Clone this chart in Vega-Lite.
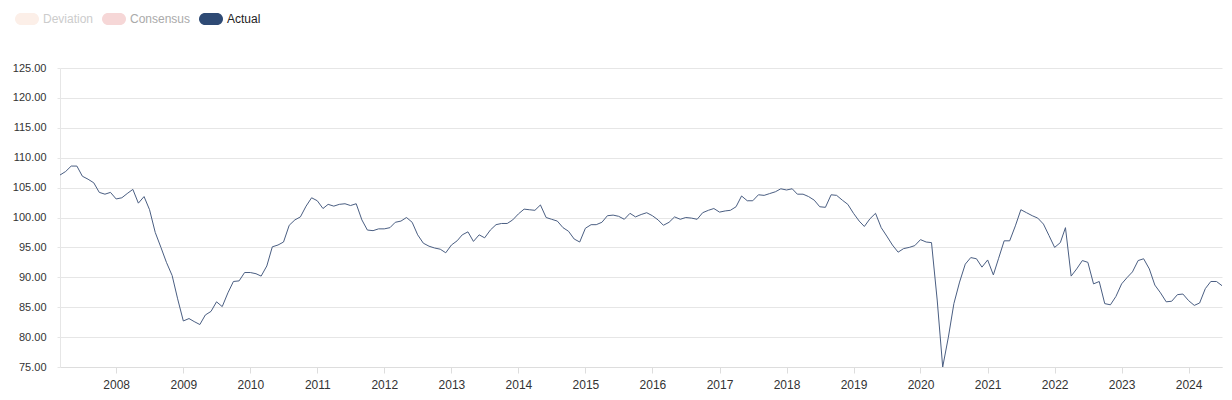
{
  "$schema": "https://vega.github.io/schema/vega-lite/v6.json",
  "width": 1162,
  "height": 299,
  "autosize": {"type": "none"},
  "padding": {"left": 60, "top": 68, "right": 10, "bottom": 33},
  "background": "#ffffff",
  "config": {
    "font": "Liberation Sans",
    "view": {"stroke": null}
  },
  "data": {
    "values": [
      {"d":"2007-03-01","v":107.1},{"d":"2007-04-01","v":107.7},{"d":"2007-05-01","v":108.6},{"d":"2007-06-01","v":108.6},
      {"d":"2007-07-01","v":106.9},{"d":"2007-08-01","v":106.4},{"d":"2007-09-01","v":105.8},{"d":"2007-10-01","v":104.2},
      {"d":"2007-11-01","v":103.9},{"d":"2007-12-01","v":104.2},{"d":"2008-01-01","v":103.1},{"d":"2008-02-01","v":103.3},
      {"d":"2008-03-01","v":104.0},{"d":"2008-04-01","v":104.7},{"d":"2008-05-01","v":102.4},{"d":"2008-06-01","v":103.5},
      {"d":"2008-07-01","v":101.3},{"d":"2008-08-01","v":97.5},{"d":"2008-09-01","v":95.0},{"d":"2008-10-01","v":92.5},
      {"d":"2008-11-01","v":90.3},{"d":"2008-12-01","v":86.4},{"d":"2009-01-01","v":82.7},{"d":"2009-02-01","v":83.1},
      {"d":"2009-03-01","v":82.6},{"d":"2009-04-01","v":82.1},{"d":"2009-05-01","v":83.7},{"d":"2009-06-01","v":84.3},
      {"d":"2009-07-01","v":85.9},{"d":"2009-08-01","v":85.1},{"d":"2009-09-01","v":87.4},{"d":"2009-10-01","v":89.3},
      {"d":"2009-11-01","v":89.4},{"d":"2009-12-01","v":90.8},{"d":"2010-01-01","v":90.8},{"d":"2010-02-01","v":90.6},
      {"d":"2010-03-01","v":90.2},{"d":"2010-04-01","v":91.9},{"d":"2010-05-01","v":95.1},{"d":"2010-06-01","v":95.4},
      {"d":"2010-07-01","v":95.9},{"d":"2010-08-01","v":98.7},{"d":"2010-09-01","v":99.6},{"d":"2010-10-01","v":100.1},
      {"d":"2010-11-01","v":101.9},{"d":"2010-12-01","v":103.3},{"d":"2011-01-01","v":102.8},{"d":"2011-02-01","v":101.5},
      {"d":"2011-03-01","v":102.2},{"d":"2011-04-01","v":101.9},{"d":"2011-05-01","v":102.2},{"d":"2011-06-01","v":102.3},
      {"d":"2011-07-01","v":102.0},{"d":"2011-08-01","v":102.3},{"d":"2011-09-01","v":99.6},{"d":"2011-10-01","v":97.9},
      {"d":"2011-11-01","v":97.8},{"d":"2011-12-01","v":98.1},{"d":"2012-01-01","v":98.1},{"d":"2012-02-01","v":98.3},
      {"d":"2012-03-01","v":99.2},{"d":"2012-04-01","v":99.4},{"d":"2012-05-01","v":100.0},{"d":"2012-06-01","v":99.2},
      {"d":"2012-07-01","v":97.1},{"d":"2012-08-01","v":95.7},{"d":"2012-09-01","v":95.2},{"d":"2012-10-01","v":94.9},
      {"d":"2012-11-01","v":94.7},{"d":"2012-12-01","v":94.1},{"d":"2013-01-01","v":95.4},{"d":"2013-02-01","v":96.1},
      {"d":"2013-03-01","v":97.1},{"d":"2013-04-01","v":97.6},{"d":"2013-05-01","v":96.0},{"d":"2013-06-01","v":97.1},
      {"d":"2013-07-01","v":96.6},{"d":"2013-08-01","v":97.9},{"d":"2013-09-01","v":98.8},{"d":"2013-10-01","v":99.0},
      {"d":"2013-11-01","v":99.0},{"d":"2013-12-01","v":99.6},{"d":"2014-01-01","v":100.6},{"d":"2014-02-01","v":101.4},
      {"d":"2014-03-01","v":101.3},{"d":"2014-04-01","v":101.2},{"d":"2014-05-01","v":102.1},{"d":"2014-06-01","v":100.0},
      {"d":"2014-07-01","v":99.7},{"d":"2014-08-01","v":99.4},{"d":"2014-09-01","v":98.3},{"d":"2014-10-01","v":97.7},
      {"d":"2014-11-01","v":96.4},{"d":"2014-12-01","v":95.9},{"d":"2015-01-01","v":98.2},{"d":"2015-02-01","v":98.8},
      {"d":"2015-03-01","v":98.8},{"d":"2015-04-01","v":99.2},{"d":"2015-05-01","v":100.3},{"d":"2015-06-01","v":100.4},
      {"d":"2015-07-01","v":100.2},{"d":"2015-08-01","v":99.7},{"d":"2015-09-01","v":100.7},{"d":"2015-10-01","v":100.1},
      {"d":"2015-11-01","v":100.5},{"d":"2015-12-01","v":100.8},{"d":"2016-01-01","v":100.3},{"d":"2016-02-01","v":99.6},
      {"d":"2016-03-01","v":98.7},{"d":"2016-04-01","v":99.2},{"d":"2016-05-01","v":100.1},{"d":"2016-06-01","v":99.7},
      {"d":"2016-07-01","v":100.0},{"d":"2016-08-01","v":99.9},{"d":"2016-09-01","v":99.7},{"d":"2016-10-01","v":100.8},
      {"d":"2016-11-01","v":101.2},{"d":"2016-12-01","v":101.5},{"d":"2017-01-01","v":100.9},{"d":"2017-02-01","v":101.1},
      {"d":"2017-03-01","v":101.2},{"d":"2017-04-01","v":101.8},{"d":"2017-05-01","v":103.6},{"d":"2017-06-01","v":102.8},
      {"d":"2017-07-01","v":102.8},{"d":"2017-08-01","v":103.8},{"d":"2017-09-01","v":103.7},{"d":"2017-10-01","v":104.0},
      {"d":"2017-11-01","v":104.3},{"d":"2017-12-01","v":104.8},{"d":"2018-01-01","v":104.6},{"d":"2018-02-01","v":104.8},
      {"d":"2018-03-01","v":103.9},{"d":"2018-04-01","v":103.9},{"d":"2018-05-01","v":103.5},{"d":"2018-06-01","v":102.9},
      {"d":"2018-07-01","v":101.8},{"d":"2018-08-01","v":101.7},{"d":"2018-09-01","v":103.8},{"d":"2018-10-01","v":103.7},
      {"d":"2018-11-01","v":102.9},{"d":"2018-12-01","v":102.2},{"d":"2019-01-01","v":100.7},{"d":"2019-02-01","v":99.4},
      {"d":"2019-03-01","v":98.5},{"d":"2019-04-01","v":99.8},{"d":"2019-05-01","v":100.7},{"d":"2019-06-01","v":98.3},
      {"d":"2019-07-01","v":96.9},{"d":"2019-08-01","v":95.4},{"d":"2019-09-01","v":94.2},{"d":"2019-10-01","v":94.8},
      {"d":"2019-11-01","v":95.0},{"d":"2019-12-01","v":95.3},{"d":"2020-01-01","v":96.3},{"d":"2020-02-01","v":95.9},
      {"d":"2020-03-01","v":95.8},{"d":"2020-04-01","v":86.2},{"d":"2020-05-01","v":75.0},{"d":"2020-06-01","v":80.0},
      {"d":"2020-07-01","v":85.6},{"d":"2020-08-01","v":89.2},{"d":"2020-09-01","v":92.2},{"d":"2020-10-01","v":93.3},
      {"d":"2020-11-01","v":93.1},{"d":"2020-12-01","v":91.7},{"d":"2021-01-01","v":92.9},{"d":"2021-02-01","v":90.4},
      {"d":"2021-03-01","v":93.1},{"d":"2021-04-01","v":96.1},{"d":"2021-05-01","v":96.1},{"d":"2021-06-01","v":98.6},
      {"d":"2021-07-01","v":101.3},{"d":"2021-08-01","v":100.8},{"d":"2021-09-01","v":100.3},{"d":"2021-10-01","v":99.9},
      {"d":"2021-11-01","v":98.9},{"d":"2021-12-01","v":97.0},{"d":"2022-01-01","v":95.0},{"d":"2022-02-01","v":95.8},
      {"d":"2022-03-01","v":98.3},{"d":"2022-04-01","v":90.2},{"d":"2022-05-01","v":91.4},{"d":"2022-06-01","v":92.8},
      {"d":"2022-07-01","v":92.5},{"d":"2022-08-01","v":88.9},{"d":"2022-09-01","v":89.3},{"d":"2022-10-01","v":85.6},
      {"d":"2022-11-01","v":85.4},{"d":"2022-12-01","v":86.8},{"d":"2023-01-01","v":88.9},{"d":"2023-02-01","v":90.0},
      {"d":"2023-03-01","v":90.9},{"d":"2023-04-01","v":92.8},{"d":"2023-05-01","v":93.1},{"d":"2023-06-01","v":91.4},
      {"d":"2023-07-01","v":88.7},{"d":"2023-08-01","v":87.4},{"d":"2023-09-01","v":85.9},{"d":"2023-10-01","v":86.0},
      {"d":"2023-11-01","v":87.1},{"d":"2023-12-01","v":87.2},{"d":"2024-01-01","v":86.1},{"d":"2024-02-01","v":85.3},
      {"d":"2024-03-01","v":85.7},{"d":"2024-04-01","v":88.1},{"d":"2024-05-01","v":89.3},{"d":"2024-06-01","v":89.3},
      {"d":"2024-07-01","v":88.6}
    ]
  },
  "mark": {"type": "line", "strokeWidth": 1, "interpolate": "linear"},
  "encoding": {
    "x": {
      "field": "d",
      "type": "temporal",
      "scale": {"type": "utc", "nice": false},
      "axis": {
        "title": null,
        "format": "%Y",
        "tickCount": {"interval": "year", "step": 1},
        "grid": false,
        "domain": true,
        "domainColor": "#dddddd",
        "tickColor": "#dddddd",
        "tickSize": 6,
        "labelFontSize": 12,
        "labelColor": "#333333",
        "labelPadding": 6,
        "labelFlush": false
      }
    },
    "y": {
      "field": "v",
      "type": "quantitative",
      "scale": {"domain": [75, 125], "nice": false, "zero": false},
      "axis": {
        "title": null,
        "values": [75, 80, 85, 90, 95, 100, 105, 110, 115, 120, 125],
        "format": ".2f",
        "grid": true,
        "gridColor": "#e6e6e6",
        "domain": true,
        "domainColor": "#e6e6e6",
        "tickColor": "#e6e6e6",
        "tickSize": 3,
        "labelFontSize": 11,
        "labelColor": "#333333",
        "labelPadding": 11
      }
    },
    "color": {
      "datum": "Actual",
      "type": "nominal",
      "scale": {
        "domain": ["Deviation", "Consensus", "Actual"],
        "range": ["#fcefe8", "#f6d7d7", "#4a5e82"]
      },
      "legend": {
        "title": null,
        "orient": "none",
        "direction": "horizontal",
        "legendX": -45,
        "legendY": -61,
        "symbolType": "M-0.5,-0.5 L0.5,-0.5 A0.5,0.5 0 0 1 0.5,0.5 L-0.5,0.5 A0.5,0.5 0 0 1 -0.5,-0.5 Z",
        "symbolSize": 576,
        "symbolStrokeWidth": 0,
        "symbolOpacity": 1,
        "labelFontSize": 12,
        "labelOffset": 4,
        "columnPadding": 8,
        "encode": {
          "symbols": {"update": {"fill": {"signal": "datum.value === 'Actual' ? '#2e4a74' : (datum.value === 'Consensus' ? '#f6d7d7' : '#fcefe8')"}, "stroke": {"value": "transparent"}}},
          "labels": {"update": {"fill": {"signal": "datum.label === 'Actual' ? '#222222' : (datum.label === 'Consensus' ? '#aaaaaa' : '#cccccc')"}}}
        }
      }
    }
  }
}
